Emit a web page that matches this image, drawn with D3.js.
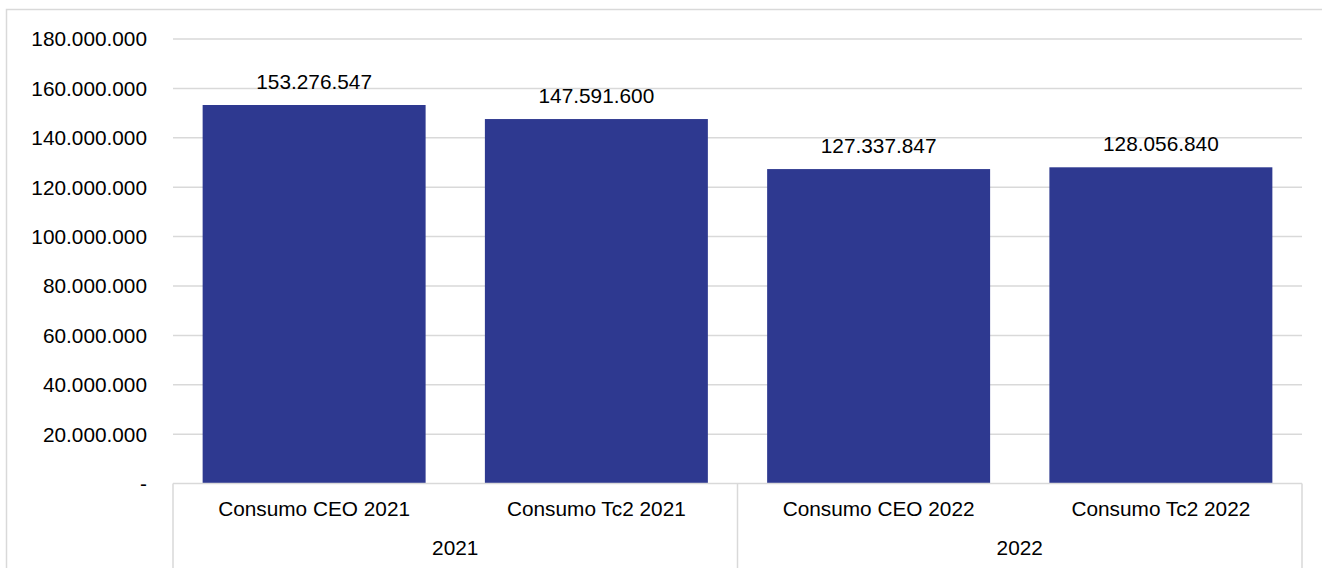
<!DOCTYPE html>
<html>
<head>
<meta charset="utf-8">
<script src="https://cdn.jsdelivr.net/npm/d3@7/dist/d3.min.js"></script>
<style>
  html, body { margin: 0; padding: 0; background: #fff; }
  svg { display: block; }
  text { font-family: "Liberation Sans", Arial, sans-serif; fill: #000; }
</style>
</head>
<body>
<svg id="chart" width="1322" height="568"></svg>
<script>
// Consumption per measurement source, grouped by year
const categories = ["Consumo CEO 2021", "Consumo Tc2 2021", "Consumo CEO 2022", "Consumo Tc2 2022"];
const groups = ["2021", "2021", "2022", "2022"];
const values = [153276547, 147591600, 127337847, 128056840];
const yTicks = [0, 20000000, 40000000, 60000000, 80000000, 100000000, 120000000, 140000000, 160000000, 180000000];

const W = 1322, H = 568;
const margin = { left: 173, right: 20, top: 39, bottom: 84 };
const plotRight = 1302;
const plotBottom = 483.6;

const svg = d3.select("#chart");
const fontSize = "20.8px";
const gridColor = "#d9d9d9";
const barColor = "#2e3990";

// Outer frame
svg.append("rect")
  .attr("x", 6.5).attr("y", 9.5)
  .attr("width", W + 20).attr("height", H + 20)
  .attr("fill", "none").attr("stroke", gridColor).attr("stroke-width", 1.5);

const x = d3.scaleBand()
  .domain(categories)
  .range([margin.left, plotRight])
  .paddingInner(0.21)
  .paddingOuter(0.105);

const y = d3.scaleLinear()
  .domain([0, 180000000])
  .range([plotBottom, margin.top]);

const fmt = v => v === 0 ? "-" : d3.format(",")(v).replace(/,/g, ".");

// Horizontal gridlines
svg.append("g")
  .selectAll("line")
  .data(yTicks.filter(t => t > 0))
  .join("line")
  .attr("x1", margin.left).attr("x2", plotRight)
  .attr("y1", d => y(d)).attr("y2", d => y(d))
  .attr("stroke", gridColor).attr("stroke-width", 1.5);

// Y axis labels
svg.append("g")
  .selectAll("text")
  .data(yTicks)
  .join("text")
  .attr("x", 147)
  .attr("y", d => y(d))
  .attr("dy", "0.36em")
  .attr("text-anchor", "end")
  .style("font-size", fontSize)
  .text(fmt);

// Bars
svg.append("g")
  .selectAll("rect")
  .data(values)
  .join("rect")
  .attr("x", (d, i) => x(categories[i]))
  .attr("width", x.bandwidth())
  .attr("y", d => y(d))
  .attr("height", d => plotBottom - y(d))
  .attr("fill", barColor);

// Value labels
svg.append("g")
  .selectAll("text")
  .data(values)
  .join("text")
  .attr("x", (d, i) => x(categories[i]) + x.bandwidth() / 2)
  .attr("y", d => y(d) - 16)
  .attr("text-anchor", "middle")
  .style("font-size", fontSize)
  .text(fmt);

// Category axis line
svg.append("line")
  .attr("x1", margin.left).attr("x2", plotRight)
  .attr("y1", plotBottom).attr("y2", plotBottom)
  .attr("stroke", gridColor).attr("stroke-width", 1.5);

// Category labels
const step = x.step();
svg.append("g")
  .selectAll("text")
  .data(categories)
  .join("text")
  .attr("x", d => x(d) + x.bandwidth() / 2)
  .attr("y", 516)
  .attr("text-anchor", "middle")
  .style("font-size", fontSize)
  .text(d => d);

// Year groups with dividers
const yearNames = Array.from(new Set(groups));
const yearSpans = yearNames.map(g => {
  const idx = categories.map((c, i) => i).filter(i => groups[i] === g);
  const x0 = margin.left + (plotRight - margin.left) * idx[0] / categories.length;
  const x1 = margin.left + (plotRight - margin.left) * (idx[idx.length - 1] + 1) / categories.length;
  return { name: g, x0, x1 };
});

const dividers = [yearSpans[0].x0, ...yearSpans.map(s => s.x1)];
svg.append("g")
  .selectAll("line")
  .data(dividers)
  .join("line")
  .attr("x1", d => d).attr("x2", d => d)
  .attr("y1", plotBottom).attr("y2", H + 5)
  .attr("stroke", gridColor).attr("stroke-width", 1.5);

svg.append("g")
  .selectAll("text")
  .data(yearSpans)
  .join("text")
  .attr("x", d => (d.x0 + d.x1) / 2)
  .attr("y", 555)
  .attr("text-anchor", "middle")
  .style("font-size", fontSize)
  .text(d => d.name);
</script>
</body>
</html>
